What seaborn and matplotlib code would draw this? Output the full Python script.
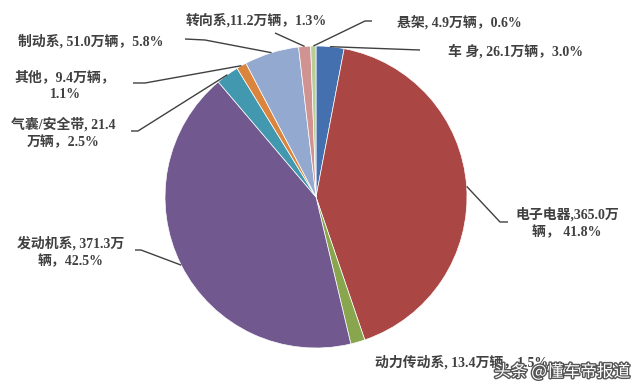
import matplotlib
matplotlib.use("Agg")
import matplotlib.pyplot as plt
import matplotlib.patheffects as pe
import numpy as np
import seaborn as sns

# ---- data (clockwise from 12 o'clock) ----
categories = ["车 身", "电子电器", "动力传动系", "发动机系", "气囊/安全带", "其他", "制动系", "转向系", "悬架"]
values = [26.1, 365.0, 13.4, 371.3, 21.4, 9.4, 51.0, 11.2, 4.9]          # 万辆
percents = ["3.0%", "41.8%", "1.5%", "42.5%", "2.5%", "1.1%", "5.8%", "1.3%", "0.6%"]
labels = [
    "车 身, 26.1万辆，3.0%",
    "电子电器,365.0万\n辆， 41.8%",
    "动力传动系, 13.4万辆，1.5%",
    "发动机系, 371.3万\n辆，42.5%",
    "气囊/安全带, 21.4\n万辆，2.5%",
    "其他，9.4万辆，\n1.1%",
    "制动系, 51.0万辆，5.8%",
    "转向系,11.2万辆，1.3%",
    "悬架, 4.9万辆，0.6%",
]
colors = ["#4470B0", "#AA4643", "#89A54E", "#71588F", "#4198AF",
          "#DB843D", "#93A9CF", "#D19392", "#B9CD96"]

sns.set_theme(style="white")
plt.rcParams["font.family"] = ["Liberation Serif", "Noto Sans CJK SC", "DejaVu Sans"]

W, H = 640, 392
fig = plt.figure(figsize=(W / 100, H / 100), dpi=100)
fig.patch.set_facecolor("white")

# pie geometry (pixels)
cx, cy, r = 316, 197, 151
ax = fig.add_axes([(cx - r) / W, (H - cy - r) / H, 2 * r / W, 2 * r / H])
wedges, _ = ax.pie(values, colors=colors, startangle=90, counterclock=False,
                   radius=1, wedgeprops=dict(edgecolor="white", linewidth=0.5))
ax.set_xlim(-1, 1)
ax.set_ylim(-1, 1)
ax.axis("off")

ov = fig.add_axes([0, 0, 1, 1], zorder=5)
ov.set_xlim(0, W)
ov.set_ylim(H, 0)
ov.axis("off")
ov.patch.set_alpha(0)

# label layout (pixel centres) and leader-line start/elbow points
label_pos = [(515, 51), (567, 223), (462, 362), (71, 252), (63, 133),
             (65, 86), (91, 41), (256, 21), (459, 22)]
line_pts = [
    [(420, 50)],
    [(508, 222), (500, 222)],
    None,
    [(135, 250), (141, 250)],
    [(131, 131), (138, 131)],
    [(133, 83), (145, 83)],
    [(185, 39), (205, 40)],
    [(275, 33)],
    [(372, 21), (365, 21)],
]

tc = "#404040"
to_ov = ov.transData.inverted()
for w, lab, pos, pts in zip(wedges, labels, label_pos, line_pts):
    ov.text(pos[0], pos[1], lab, ha="center", va="center", fontsize=10,
            color=tc, fontweight="bold", linespacing=1.35)
    if pts is None:
        continue
    mid = np.deg2rad((w.theta1 + w.theta2) / 2)
    px, py = to_ov.transform(ax.transData.transform((np.cos(mid), np.sin(mid))))
    xs = [p[0] for p in pts] + [px]
    ys = [p[1] for p in pts] + [py]
    ov.plot(xs, ys, color=tc, lw=1.0, solid_capstyle="butt")

# watermark
ov.text(562, 372, "头条 @懂车帝报道", ha="center", va="center", fontsize=12,
        color="white", family=["Noto Sans CJK SC", "DejaVu Sans"],
        path_effects=[pe.withStroke(linewidth=2, foreground="#555555")], zorder=10)

fig.savefig("out.png", dpi=100)
